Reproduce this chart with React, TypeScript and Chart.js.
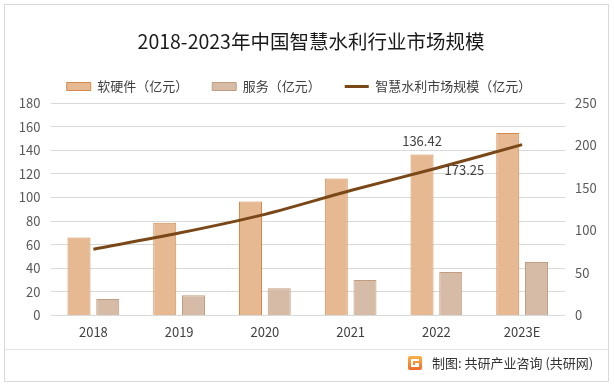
import React, { useEffect, useRef } from "react";
import { Chart, registerables } from "chart.js";

Chart.register(...registerables);

const categories = ["2018", "2019", "2020", "2021", "2022", "2023E"];
const hardwareValues = [66, 78.5, 96.5, 116, 136.42, 154.5];
const serviceValues = [14, 17.2, 23, 30, 36.8, 45.3];
const marketSizeValues = [78, 97, 119, 147, 173.25, 201];
const leftTicks = { min: 0, max: 180, step: 20 };
const rightTicks = { min: 0, max: 250, step: 50 };
const seriesNames = ["软硬件（亿元）", "服务（亿元）", "智慧水利市场规模（亿元）"];
const titleText = "2018-2023年中国智慧水利行业市场规模";
const footerText = "制图: 共研产业咨询 (共研网)";

const FONT = '"Noto Sans CJK SC", "Noto Sans", sans-serif';

const framePlugin = {
  id: "frame",
  beforeDraw(chart: any) {
    const { ctx, width, height } = chart;
    ctx.save();
    ctx.fillStyle = "#ffffff";
    ctx.fillRect(0, 0, width, height);
    ctx.restore();
  },
  afterDraw(chart: any) {
    const { ctx } = chart;
    ctx.save();
    // outer border
    ctx.strokeStyle = "#d9d9d9";
    ctx.lineWidth = 1;
    ctx.strokeRect(4.5, 4.5, 604, 377);
    // title
    ctx.fillStyle = "#1a1a1a";
    ctx.font = `19.5px ${FONT}`;
    ctx.textAlign = "center";
    ctx.textBaseline = "middle";
    ctx.fillText(titleText, 311, 42);
    // footer separator
    ctx.strokeStyle = "#e3e3e3";
    ctx.beginPath();
    ctx.moveTo(5, 349.5);
    ctx.lineTo(608, 349.5);
    ctx.stroke();
    // logo
    const lx = 408, ly = 356, ls = 14;
    const g = ctx.createLinearGradient(lx, ly, lx, ly + ls);
    g.addColorStop(0, "#f9b44a");
    g.addColorStop(1, "#ee6b2d");
    ctx.fillStyle = g;
    ctx.beginPath();
    ctx.moveTo(lx + 2, ly);
    ctx.lineTo(lx + ls - 2, ly);
    ctx.quadraticCurveTo(lx + ls, ly, lx + ls, ly + 2);
    ctx.lineTo(lx + ls, ly + ls - 2);
    ctx.quadraticCurveTo(lx + ls, ly + ls, lx + ls - 2, ly + ls);
    ctx.lineTo(lx + 2, ly + ls);
    ctx.quadraticCurveTo(lx, ly + ls, lx, ly + ls - 2);
    ctx.lineTo(lx, ly + 2);
    ctx.quadraticCurveTo(lx, ly, lx + 2, ly);
    ctx.fill();
    ctx.fillStyle = "#ffffff";
    ctx.fillRect(lx + 3, ly + 3, ls - 6, 2);
    ctx.fillRect(lx + 3, ly + 3, 2, ls - 6);
    ctx.fillRect(lx + 3, ly + ls - 5, ls - 6, 2);
    ctx.fillRect(lx + ls - 5, ly + 7, 2, ls - 10);
    ctx.fillRect(lx + 7, ly + 7, ls - 10, 2);
    // footer text
    ctx.fillStyle = "#333333";
    ctx.font = `13px ${FONT}`;
    ctx.textAlign = "left";
    ctx.textBaseline = "middle";
    ctx.fillText(footerText, 432, 363);
    // data labels
    const xs = chart.scales.x;
    const yl = chart.scales.y;
    const yr = chart.scales.y1;
    const meta0 = chart.getDatasetMeta(0);
    const bar = meta0.data[4];
    ctx.fillStyle = "#404040";
    ctx.font = `13px ${FONT}`;
    ctx.textAlign = "center";
    ctx.fillText(String(hardwareValues[4]), bar.x, yl.getPixelForValue(hardwareValues[4]) - 13);
    ctx.fillText(
      String(marketSizeValues[4]),
      xs.getPixelForValue(4) + 28,
      yr.getPixelForValue(marketSizeValues[4]) + 2
    );
    ctx.restore();
  },
};

export default function App() {
  const ref = useRef<HTMLCanvasElement | null>(null);
  useEffect(() => {
    if (!ref.current) return;
    const chart = new Chart(ref.current, {
      type: "bar",
      data: {
        labels: categories,
        datasets: [
          {
            type: "bar",
            label: seriesNames[0],
            data: hardwareValues,
            backgroundColor: "#e6b993",
            borderColor: "#d48a4c",
            borderWidth: 1,
            yAxisID: "y",
            order: 2,
            categoryPercentage: 0.67,
            barPercentage: 0.8,
          } as any,
          {
            type: "bar",
            label: seriesNames[1],
            data: serviceValues,
            backgroundColor: "#d6bca7",
            borderColor: "#c39d7f",
            borderWidth: 1,
            yAxisID: "y",
            order: 2,
            categoryPercentage: 0.67,
            barPercentage: 0.8,
          } as any,
          {
            type: "line",
            label: seriesNames[2],
            data: marketSizeValues,
            borderColor: "#7a4818",
            backgroundColor: "#7a4818",
            borderWidth: 3,
            pointRadius: 0,
            tension: 0.3,
            yAxisID: "y1",
            order: 0,
          } as any,
        ],
      },
      options: {
        responsive: false,
        animation: false,
        devicePixelRatio: 1,
        layout: { padding: { top: 56, left: -7, right: 9, bottom: 39.5 } },
        plugins: {
          title: { display: false },
          tooltip: { enabled: false },
          legend: {
            display: true,
            position: "top",
            labels: {
              usePointStyle: true,
              pointStyleWidth: 24,
              boxHeight: 8,
              padding: 24,
              color: "#404040",
              font: { size: 13, family: FONT },
              generateLabels: (chart: any) => {
                const ds = chart.data.datasets;
                return ds.map((d: any, i: number) => ({
                  text: d.label,
                  fillStyle: d.backgroundColor,
                  strokeStyle: d.borderColor,
                  lineWidth: i === 2 ? 3 : 1,
                  pointStyle: i === 2 ? "line" : "rect",
                  fontColor: "#404040",
                  hidden: false,
                  datasetIndex: i,
                }));
              },
            },
          },
        },
        scales: {
          x: {
            grid: { display: false, drawTicks: false },
            border: { display: false },
            ticks: { color: "#404040", font: { size: 13, family: FONT }, padding: 9 },
            afterFit: (s: any) => {
              s.height = 30;
            },
          },
          y: {
            position: "left",
            min: leftTicks.min,
            max: leftTicks.max,
            ticks: { stepSize: leftTicks.step, color: "#595959", font: { size: 13, family: FONT }, padding: 10 },
            grid: { color: "#d9d9d9", drawTicks: false },
            border: { display: false },
            afterFit: (s: any) => {
              s.width = 57.5;
            },
          },
          y1: {
            position: "right",
            min: rightTicks.min,
            max: rightTicks.max,
            ticks: { stepSize: rightTicks.step, color: "#595959", font: { size: 13, family: FONT }, padding: 10 },
            grid: { display: false, drawTicks: false },
            border: { display: false },
            afterFit: (s: any) => {
              s.width = 40;
            },
          },
        },
      },
      plugins: [framePlugin],
    } as any);
    return () => chart.destroy();
  }, []);
  return (
    <div style={{ position: "fixed", left: 0, top: 0, width: 614, height: 385, background: "#fff" }}>
      <canvas ref={ref} width={614} height={385} style={{ display: "block", width: 614, height: 385 }} />
    </div>
  );
}
